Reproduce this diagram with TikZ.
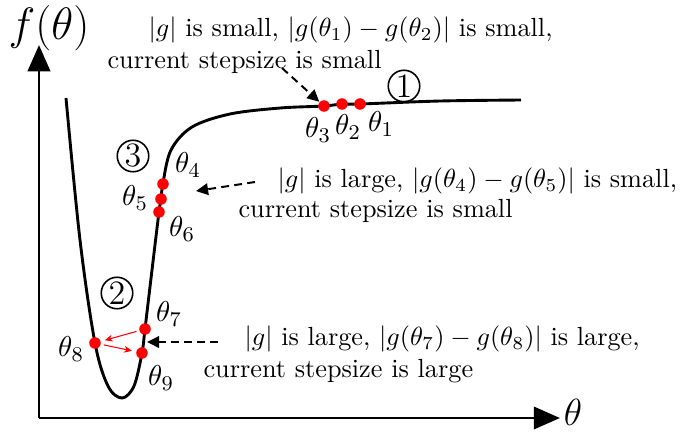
\documentclass[tikz,border=0pt]{standalone}
\usepackage{amsmath}
\usepackage{tikz}
\usetikzlibrary{arrows.meta}

\begin{document}
\begin{tikzpicture}[x=0.381pt, y=-0.381pt, font=\normalsize, >=Latex,
    dot/.style={circle, fill=red, inner sep=0pt, minimum size=4.4pt},
    num/.style={circle, draw, semithick, inner sep=0pt, minimum size=12pt, font=\fontsize{13}{15}\selectfont},
    note/.style={anchor=west, inner sep=0pt},
    lab/.style={inner sep=1pt, font=\fontsize{11}{13}\selectfont},
    axis/.style={line width=1.1pt, -{Triangle[length=10pt,width=8.5pt]}},
    hint/.style={-{Triangle[length=4.6pt,width=4.4pt]}, dash pattern=on 3pt off 2pt, line width=0.75pt},
    jump/.style={-{Stealth[length=3pt,width=2.6pt]}, red, line width=0.4pt, shorten >=1.5pt, shorten <=1pt}]
  \useasboundingbox (0,0) rectangle (688,432);

  % ---- axes
  \coordinate (o) at (39,418);
  \coordinate (ytip) at (39,45);
  \coordinate (xtip) at (560,418);
  \draw[axis] (o) -- (ytip);
  \draw[axis] (o) -- (xtip);
  \node[font=\fontsize{16}{19}\selectfont] (ylab) at (49,28) {$f(\theta)$};
  \node[font=\fontsize{14.4}{17}\selectfont, inner sep=0pt] (xlab) at (573,412) {$\theta$};

  % ---- loss curve
  \draw[line width=1.1pt, line join=round] plot[smooth, tension=0.55] coordinates {
      (66,98) (80,240) (95,343) (108,386) (122,398) (134,386) (142,353) (145,329)
      (152,270) (159,212) (161,199) (163,183) (171,150) (192,127) (230,114)
      (280,108) (324,106) (342,104) (360,104) (440,101) (521,100)};

  % ---- iterates
  \foreach \i/\x/\y in {1/360/104, 2/342/104, 3/324/106, 4/163/184, 5/161/199,
                        6/159/212, 7/145/329, 8/95/343, 9/142/353}
    \node[dot] (p\i) at (\x,\y) {};
  \foreach \i/\x/\y in {1/381/124, 2/348/127, 3/318/130, 4/188/165, 5/135/198,
                        6/182/229, 7/169/314, 8/71/349, 9/161/378}
    \node[lab] (l\i) at (\x,\y) {$\theta_{\i}$};
  \draw[jump] (p7) -- (p8);
  \draw[jump] (p8) -- (p9);

  % ---- regions
  \node[num] (r1) at (404,86) {1};
  \node[num] (r2) at (117,293) {2};
  \node[num] (r3) at (133,156) {3};

  % ---- notes
  \node[note] (n1a) at (148,30) {$|g|$ is small, $|g(\theta_1)-g(\theta_2)|$ is small,};
  \node[note] (n1b) at (107,62) {current stepsize is small};
  \node[note] (n2a) at (277,181) {$|g|$ is large, $|g(\theta_4)-g(\theta_5)|$ is small,};
  \node[note] (n2b) at (238,211) {current stepsize is small};
  \node[note] (n3a) at (244,339) {$|g|$ is large, $|g(\theta_7)-g(\theta_8)|$ is large,};
  \node[note] (n3b) at (203,371) {current stepsize is large};

  \coordinate (s1) at (282,68);
  \coordinate (s2) at (255,182);
  \coordinate (e2) at (196,191);
  \coordinate (s3) at (218,342);
  \coordinate (e3) at (147,342);
  \draw[hint] (s1) -- (p3);
  \draw[hint] (s2) -- (e2);
  \draw[hint] (s3) -- (e3);
\end{tikzpicture}
\end{document}
